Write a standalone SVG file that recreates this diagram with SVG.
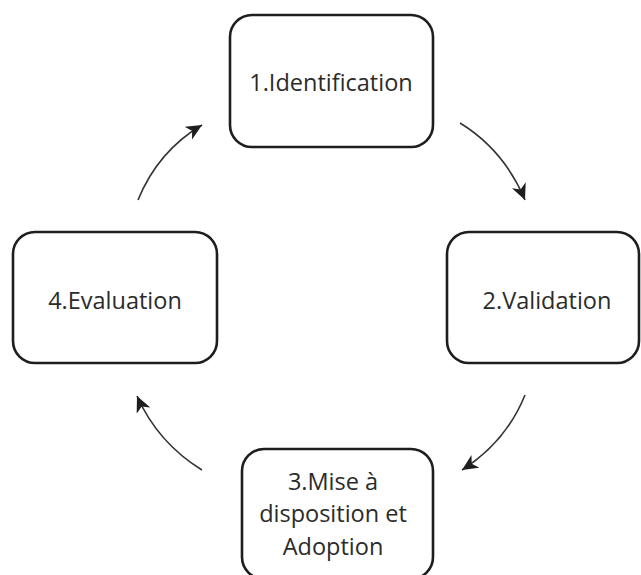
<svg xmlns="http://www.w3.org/2000/svg" width="641" height="575" viewBox="0 0 641 575">
<style>
.box{fill:#fff;stroke:#1e1e1e;stroke-width:2.6}
.lbl{font-family:"Open Sans","Noto Sans",sans-serif;font-size:23.5px;fill:#2b2b2b;text-anchor:middle}
.con{fill:none;stroke:#333;stroke-width:1.6}
</style>
<defs>
<marker id="ah" markerUnits="userSpaceOnUse" markerWidth="17" markerHeight="15" viewBox="0 0 17 15" refX="16" refY="7.5" orient="auto">
<path d="M0,0 L16,7.5 L0,15 L4.5,7.5 Z" fill="#1e1e1e"/>
</marker>
</defs>
<rect width="641" height="575" fill="#fff"/>
<g id="connectors">
<path class="con" d="M138,200 Q158,151 202,125" marker-end="url(#ah)"/>
<path class="con" d="M460,123 Q504,150 525,200" marker-end="url(#ah)"/>
<path class="con" d="M525,395 Q506,442 462,470" marker-end="url(#ah)"/>
<path class="con" d="M202,470 Q158,443 137,396" marker-end="url(#ah)"/>
</g>
<g id="node1">
<rect class="box" x="230" y="15" width="203" height="132" rx="22"/>
<text class="lbl" x="331" y="91">1.Identification</text>
</g>
<g id="node2">
<rect class="box" x="447" y="232" width="192" height="131" rx="22"/>
<text class="lbl" x="547" y="309">2.Validation</text>
</g>
<g id="node3">
<rect class="box" x="242" y="449" width="191" height="130" rx="22"/>
<text class="lbl" x="333" y="490">3.Mise à</text>
<text class="lbl" x="333" y="522.3">disposition et</text>
<text class="lbl" x="333" y="554.6">Adoption</text>
</g>
<g id="node4">
<rect class="box" x="13" y="232" width="204" height="131" rx="22"/>
<text class="lbl" x="115" y="309">4.Evaluation</text>
</g>
</svg>
